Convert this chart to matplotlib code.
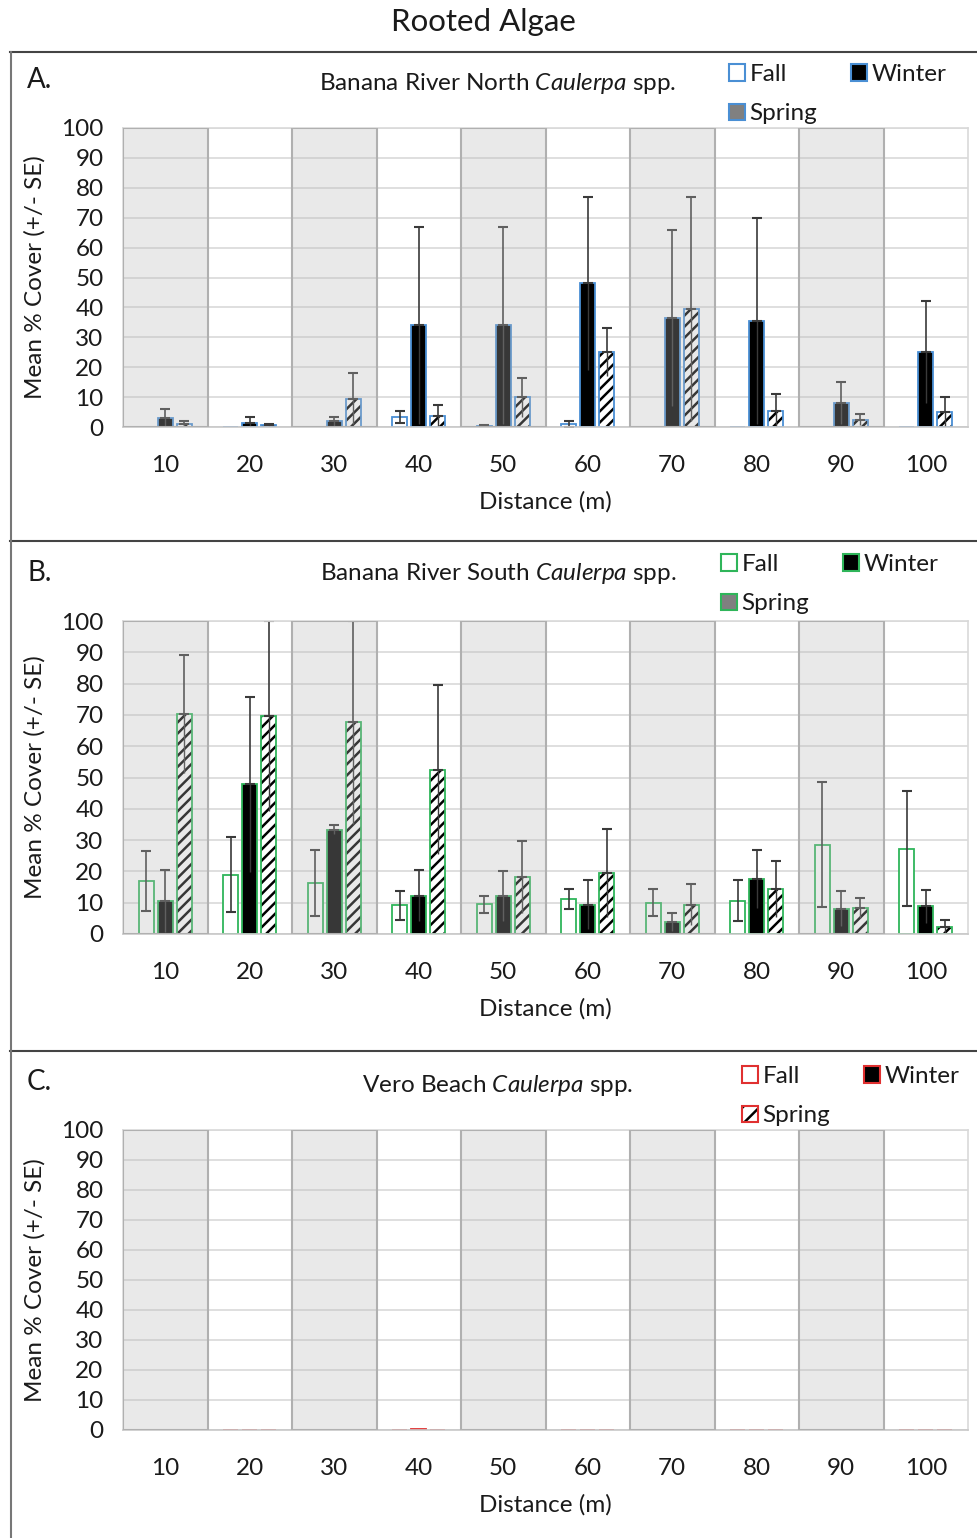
import matplotlib
matplotlib.use("Agg")
import matplotlib.pyplot as plt
from matplotlib.patches import Patch, Rectangle
from matplotlib.lines import Line2D
import numpy as np

plt.rcParams['font.family'] = ['Lato', 'DejaVu Sans']
plt.rcParams['mathtext.fontset'] = 'custom'
plt.rcParams['mathtext.it'] = 'Lato:italic'
plt.rcParams['mathtext.rm'] = 'Lato'
plt.rcParams['hatch.linewidth'] = 1.8

# data
distances = [10, 20, 30, 40, 50, 60, 70, 80, 90, 100]

north_fall = [0, 0, 0, 3.5, 0.5, 1, 0, 0, 0, 0]
north_fall_se = [0, 0, 0, 2, 0.3, 1, 0, 0, 0, 0]
north_winter = [3, 1.5, 2, 34, 34, 48, 36.5, 35.5, 8, 25]
north_winter_se = [3, 2, 1.5, 33, 33, 29, 29.5, 34.5, 7, 17]
north_spring = [1, 0.8, 9.5, 3.8, 10, 25, 39.5, 5.5, 2.5, 5]
north_spring_se = [1, 0.3, 8.5, 3.7, 6.5, 8, 37.5, 5.5, 1.7, 5]

south_fall = [17, 19, 16.3, 9.2, 9.5, 11.3, 10, 10.7, 28.5, 27.3]
south_fall_se = [9.5, 12, 10.5, 4.6, 2.8, 3.2, 4.3, 6.4, 20, 18.5]
south_winter = [10.6, 47.8, 33.3, 12.3, 12, 9.4, 3.8, 17.6, 8, 8.8]
south_winter_se = [10, 28, 1.4, 8, 8, 7.7, 2.9, 9.3, 5.6, 5.3]
south_spring = [70.3, 69.6, 67.6, 52.5, 18.2, 19.5, 9.4, 14.4, 8.3, 2.2]
south_spring_se = [18.8, 30.4, 32.4, 27, 11.6, 14.1, 6.6, 9, 3.2, 2.2]

vero_fall = [0, 0, 0, 0, 0, 0, 0, 0, 0, 0]
vero_fall_se = [0, 0, 0, 0, 0, 0, 0, 0, 0, 0]
vero_winter = [0, 0, 0, 0.4, 0, 0, 0, 0, 0, 0]
vero_winter_se = [0, 0, 0, 0, 0, 0, 0, 0, 0, 0]
vero_spring = [0, 0, 0, 0, 0, 0, 0, 0, 0, 0]
vero_spring_se = [0, 0, 0, 0, 0, 0, 0, 0, 0, 0]

W, H = 977, 1538
fig = plt.figure(figsize=(W / 100, H / 100), dpi=100)

FS = 17.5
TXT = '#1a1a1a'


def rect(x0, y0, x1, y1):
    return [x0 / W, 1 - y1 / H, (x1 - x0) / W, (y1 - y0) / H]


def ftext(x, y, s, **kw):
    fig.text(x / W, 1 - y / H, s, **kw)


def draw_panel(top, bottom, letter, title, ytitle, legx, color,
               fall, fse, win, wse, spr, sse, hatched_legend):
    ax = fig.add_axes(rect(123, top, 968, bottom))
    x = np.arange(len(distances))
    w = 0.18
    off = 0.225

    ax.bar(x - off, fall, w, color='white', edgecolor=color, lw=1.3, zorder=2)
    ax.bar(x, win, w, color='black', edgecolor=color, lw=1.3, zorder=2)
    ax.bar(x + off, spr, w, color='white', edgecolor='black', hatch='///', lw=0, zorder=2)
    ax.bar(x + off, spr, w, fill=False, edgecolor=color, lw=1.3, zorder=2.1)

    # error bars: caps on top, plus the lower part for the open Fall bars
    for xs, vals, se, lower_cap in [(x - off, fall, fse, True), (x, win, wse, False),
                                    (x + off, spr, sse, False)]:
        vals = np.array(vals, dtype=float)
        se = np.array(se, dtype=float)
        m = (vals > 0) & (se > 0)
        if not m.any():
            continue
        lo = np.minimum(vals[m], se[m])
        if lower_cap:
            ax.errorbar(xs[m], vals[m], yerr=[lo, se[m]], fmt='none', ecolor='#3a3a3a',
                        elinewidth=1.2, capsize=3.5, capthick=1.5, zorder=2.5)
        else:
            ax.errorbar(xs[m], vals[m], yerr=[np.zeros_like(lo), se[m]], fmt='none',
                        ecolor='#3a3a3a', elinewidth=1.2, capsize=3.5, capthick=1.5, zorder=2.5)
            ax.vlines(xs[m], vals[m] - lo, vals[m], color='#3a3a3a', lw=1.0, zorder=2.5)

    # alternating grey bands
    for i in range(0, len(distances), 2):
        ax.add_patch(Rectangle((i - 0.5, 0), 1, 100, facecolor='#b8b8b8', alpha=0.3,
                               edgecolor='none', zorder=5))
        ax.add_patch(Rectangle((i - 0.5, 0), 1, 100, fill=False, edgecolor='#b0b0b0',
                               lw=1.5, zorder=5))

    ax.set_xlim(-0.5, len(distances) - 0.5)
    ax.set_ylim(0, 100)
    ax.set_yticks(range(0, 101, 10))
    ax.set_xticks(x)
    ax.set_xticklabels(distances)
    ax.tick_params(length=0, labelsize=FS, colors=TXT)
    ax.tick_params(axis='x', pad=20)
    ax.tick_params(axis='y', pad=14)
    ax.yaxis.grid(True, color='#d9d9d9', lw=1.2)
    ax.set_axisbelow(True)
    for s in ax.spines.values():
        s.set_color('#d9d9d9')
        s.set_linewidth(1.2)
    ax.spines['bottom'].set_color('#c8c8c8')

    ftext(27, top - 48, letter, fontsize=20, ha='left', va='center', color=TXT)
    ftext(498, ytitle, title, fontsize=FS, ha='center', va='center', color=TXT)
    ftext(35, (top + bottom) / 2, 'Mean % Cover (+/- SE)', fontsize=FS, rotation=90,
          ha='center', va='center', color=TXT)
    ftext(545, bottom + 75, 'Distance (m)', fontsize=FS, ha='center', va='center', color=TXT)

    h_fall = Patch(facecolor='white', edgecolor=color, lw=1.5)
    h_win = Patch(facecolor='black', edgecolor=color, lw=1.5)
    if hatched_legend:
        h_spr = (Patch(facecolor='white', edgecolor='black', hatch='//', lw=0),
                 Patch(fill=False, edgecolor=color, lw=1.5))
    else:
        h_spr = Patch(facecolor='#808080', edgecolor=color, lw=1.5)
    fig.legend([h_fall, h_spr, h_win], ['Fall', 'Spring', 'Winter'], ncol=2,
               loc='upper left', bbox_to_anchor=(legx / W, 1 - (ytitle - 20) / H),
               frameon=False, fontsize=FS, handlelength=0.65, handleheight=0.65,
               handletextpad=0.2, columnspacing=1.4, labelspacing=0.75, borderpad=0,
               borderaxespad=0, labelcolor=TXT)
    return ax


ftext(483, 22, 'Rooted Algae', fontsize=22.5, ha='center', va='center', color=TXT)

draw_panel(128, 427, 'A.', r'Banana River North $\it{Caulerpa}$ spp.', 84, 729, '#4a8fd4',
           north_fall, north_fall_se, north_winter, north_winter_se,
           north_spring, north_spring_se, False)
draw_panel(621, 934, 'B.', r'Banana River South $\it{Caulerpa}$ spp.', 574, 721, '#2fb55a',
           south_fall, south_fall_se, south_winter, south_winter_se,
           south_spring, south_spring_se, False)
draw_panel(1130, 1430, 'C.', r'Vero Beach $\it{Caulerpa}$ spp.', 1086, 742, '#e03030',
           vero_fall, vero_fall_se, vero_winter, vero_winter_se,
           vero_spring, vero_spring_se, True)

# panel frames
for y in [52, 541, 1051]:
    fig.add_artist(Line2D([10 / W, 1], [1 - y / H, 1 - y / H], color='#444444', lw=1.5,
                          transform=fig.transFigure))
fig.add_artist(Line2D([11 / W, 11 / W], [1 - 52 / H, 0], color='#777777', lw=1.5,
                      transform=fig.transFigure))

fig.savefig('out.png', dpi=100)
